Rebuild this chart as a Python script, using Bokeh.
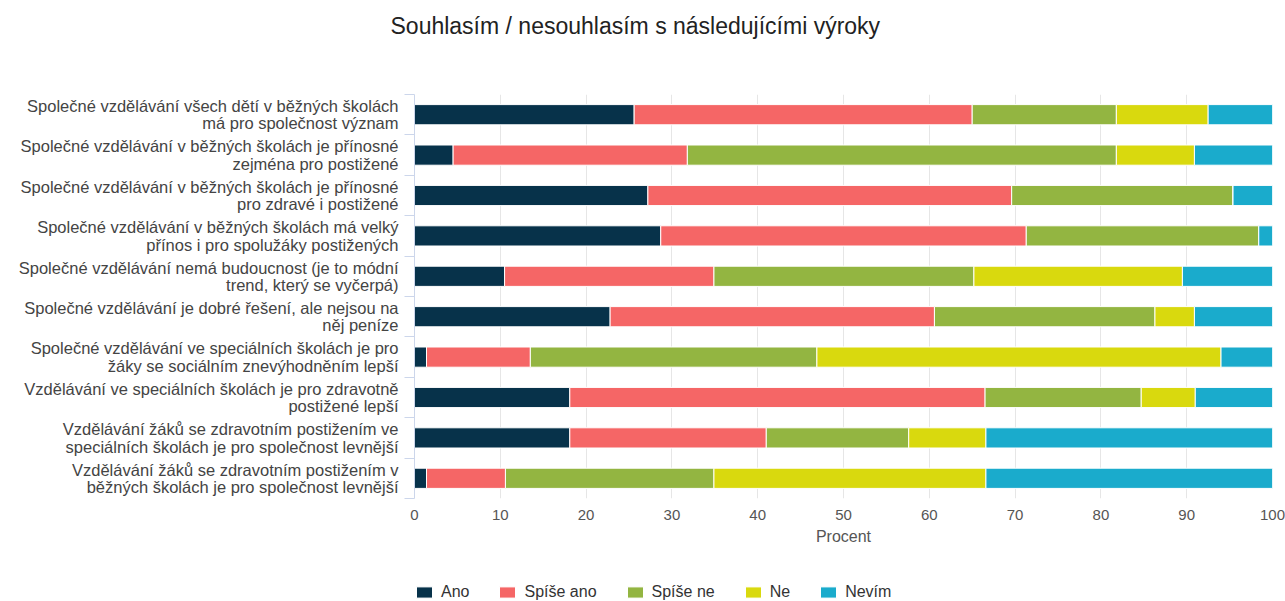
from bokeh.plotting import figure
from bokeh.layouts import column
from bokeh.models import (FixedTicker, Legend, LegendItem, ColumnDataSource,
                          Range1d, Title)
from bokeh.embed import file_html
from bokeh.resources import INLINE

# ---------------- data ----------------
chart_title = "Souhlasím / nesouhlasím s následujícími výroky"
x_axis_title = "Procent"
statements = [
    "Společné vzdělávání všech dětí v běžných školách\nmá pro společnost význam",
    "Společné vzdělávání v běžných školách je přínosné\nzejména pro postižené",
    "Společné vzdělávání v běžných školách je přínosné\npro zdravé i postižené",
    "Společné vzdělávání v běžných školách má velký\npřínos i pro spolužáky postižených",
    "Společné vzdělávání nemá budoucnost (je to módní\ntrend, který se vyčerpá)",
    "Společné vzdělávání je dobré řešení, ale nejsou na\nněj peníze",
    "Společné vzdělávání ve speciálních školách je pro\nžáky se sociálním znevýhodněním lepší",
    "Vzdělávání ve speciálních školách je pro zdravotně\npostižené lepší",
    "Vzdělávání žáků se zdravotním postižením ve\nspeciálních školách je pro společnost levnější",
    "Vzdělávání žáků se zdravotním postižením v\nběžných školách je pro společnost levnější",
]
series_names = ["Ano", "Spíše ano", "Spíše ne", "Ne", "Nevím"]
ano = [25.6, 4.5, 27.2, 28.7, 10.5, 22.8, 1.4, 18.1, 18.1, 1.4]
spise_ano = [39.4, 27.3, 42.4, 42.6, 24.4, 37.8, 12.1, 48.4, 22.9, 9.2]
spise_ne = [16.8, 50.0, 25.8, 27.1, 30.3, 25.7, 33.4, 18.2, 16.6, 24.3]
ne = [10.7, 9.1, 0.0, 0.0, 24.3, 4.6, 47.1, 6.3, 9.0, 31.7]
nevim = [7.5, 9.1, 4.6, 1.6, 10.5, 9.1, 6.0, 9.0, 33.4, 33.4]
series_colors = ["#07324a", "#f56666", "#93b541", "#d9d90e", "#1aabcc"]
x_ticks = [0, 10, 20, 30, 40, 50, 60, 70, 80, 90, 100]

# ---------------- build ----------------
FONT = "Liberation Sans"
n = len(statements)
ypos = [n - 1 - i for i in range(n)]
keys = ["ano", "spise_ano", "spise_ne", "ne", "nevim"]
source = ColumnDataSource(dict(y=ypos, ano=ano, spise_ano=spise_ano,
                               spise_ne=spise_ne, ne=ne, nevim=nevim))

W = 1285
TITLE_H = 53
LEG_H = 40
MAIN_H = 601 - TITLE_H - LEG_H

# ---- title strip ----
head = figure(width=W, height=TITLE_H, output_backend="svg",
              toolbar_location=None, x_range=Range1d(0, 1),
              y_range=Range1d(0, 1), x_axis_type=None, y_axis_type=None,
              min_border_top=43, min_border_bottom=0,
              min_border_left=414, min_border_right=13)
head.outline_line_color = None
head.grid.visible = False
head.title = Title(text=chart_title, align="left", offset=-24, standoff=10,
                   vertical_align="bottom",
                   text_font=FONT, text_font_size="23px",
                   text_font_style="normal", text_color="#222222")

# ---- main chart ----
p = figure(width=W, height=MAIN_H, output_backend="svg",
           toolbar_location=None,
           x_range=Range1d(0, 100), y_range=Range1d(-0.5, n - 0.5),
           min_border_left=414, min_border_right=13,
           min_border_top=94 - TITLE_H, min_border_bottom=63)
p.outline_line_color = None
p.background_fill_color = "white"
p.border_fill_color = "white"

p.hbar_stack(keys, y="y", height=0.5, color=series_colors,
             line_color="white", line_width=1, source=source)

# x axis
p.xaxis.ticker = FixedTicker(ticks=x_ticks)
p.xaxis.axis_line_color = None
p.xaxis.major_tick_line_color = None
p.xaxis.minor_tick_line_color = None
p.xaxis.major_label_standoff = 5
p.xaxis.major_label_text_font = FONT
p.xaxis.major_label_text_font_size = "15px"
p.xaxis.major_label_text_color = "#555555"
p.xaxis.axis_label = x_axis_title
p.xaxis.axis_label_text_font = FONT
p.xaxis.axis_label_text_font_size = "16px"
p.xaxis.axis_label_text_font_style = "normal"
p.xaxis.axis_label_text_color = "#555555"
p.xaxis.axis_label_standoff = 5
p.xgrid.ticker = FixedTicker(ticks=x_ticks)
p.xgrid.grid_line_color = "#e6e6e6"
p.ygrid.visible = False

# y axis
p.yaxis.ticker = FixedTicker(ticks=ypos,
                             minor_ticks=[k - 0.5 for k in range(n + 1)])
p.yaxis.major_label_overrides = {ypos[i]: statements[i] for i in range(n)}
p.yaxis.axis_line_color = "#ccd6eb"
p.yaxis.major_tick_out = 0
p.yaxis.major_tick_in = 0
p.yaxis.minor_tick_out = 10
p.yaxis.minor_tick_in = 0
p.yaxis.minor_tick_line_color = "#ccd6eb"
p.yaxis.major_label_standoff = 6
p.yaxis.major_label_text_font = FONT
p.yaxis.major_label_text_font_size = "16.5px"
p.yaxis.major_label_text_line_height = 0.97
p.yaxis.major_label_text_color = "#444444"

# ---- legend strip (hidden copies of the series; only the legend shows) ----
leg = figure(width=W, height=LEG_H, output_backend="svg", toolbar_location=None,
             x_range=Range1d(0, 100), y_range=Range1d(-0.5, n - 0.5),
             x_axis_type=None, y_axis_type=None,
             min_border_left=414, min_border_right=13,
             min_border_top=0, min_border_bottom=0)
leg.outline_line_color = None
leg.grid.visible = False
leg_renderers = leg.hbar_stack(keys, y="y", height=0.5, color=series_colors,
                               line_color="white", line_width=1, source=source)
for r in leg_renderers:
    r.visible = False
legend = Legend(items=[LegendItem(label=s, renderers=[r])
                       for s, r in zip(series_names, leg_renderers)],
                location=(0, 0), orientation="horizontal",
                glyph_width=20, glyph_height=14, label_standoff=7, spacing=28,
                padding=0, margin=0, border_line_color=None,
                background_fill_alpha=0, inactive_fill_alpha=0,
                label_text_font=FONT, label_text_font_size="16px",
                label_text_color="#333333")
leg.add_layout(legend, "center")

layout = column(head, p, leg, spacing=0)
open("out.html", "w").write(file_html(layout, INLINE))
